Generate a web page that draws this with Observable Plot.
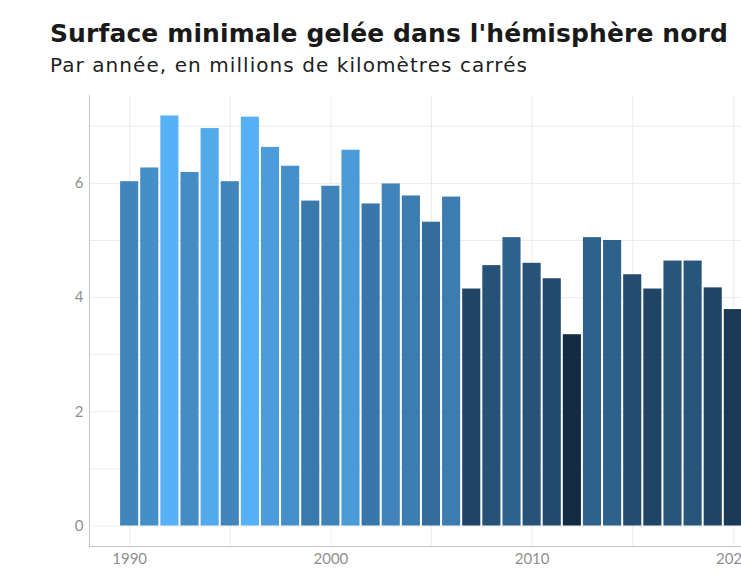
<!DOCTYPE html>
<html><head><meta charset="utf-8">
<script src="https://cdn.jsdelivr.net/npm/d3@7"></script>
<script src="https://cdn.jsdelivr.net/npm/@observablehq/plot@0.6"></script>
<style>
html,body{margin:0;padding:0;background:#fff;overflow:hidden;width:741px;height:582px;position:relative;}
#title{position:absolute;left:50px;top:19px;font-family:"DejaVu Sans",sans-serif;font-weight:bold;font-size:25px;line-height:30px;color:#1a1a1a;white-space:nowrap;}
#subtitle{position:absolute;left:50px;top:52px;font-family:"DejaVu Sans",sans-serif;font-size:20px;line-height:26px;color:#222;white-space:nowrap;}
#chart{position:absolute;left:0;top:88px;width:790px;}
#chart svg{max-width:none !important;}
</style></head><body>
<div id="title">Surface minimale gelée dans l'hémisphère nord</div>
<div id="subtitle">Par année, en millions de kilomètres carrés</div>
<div id="chart"></div>
<script>
const years = [1990,1991,1992,1993,1994,1995,1996,1997,1998,1999,2000,2001,2002,2003,2004,2005,2006,2007,2008,2009,2010,2011,2012,2013,2014,2015,2016,2017,2018,2019,2020];
const values = [6.03,6.27,7.18,6.19,6.96,6.03,7.16,6.63,6.30,5.69,5.95,6.58,5.64,5.99,5.78,5.32,5.76,4.15,4.56,5.05,4.60,4.33,3.35,5.05,5.00,4.40,4.15,4.64,4.64,4.17,3.79];
const yTicks = [0,2,4,6];
const yGrid = [0,1,2,3,4,5,6,7];
const xTicks = [1990,2000,2010,2020];
const xGrid = [1990,1995,2000,2005,2010,2015,2020];

function fitWidth(id, target) {
  const el = document.getElementById(id);
  el.style.letterSpacing = "0px";
  const w = el.getBoundingClientRect().width;
  const n = el.textContent.length;
  el.style.letterSpacing = ((target - w) / n) + "px";
}
function fitAll() { fitWidth("title", 678); fitWidth("subtitle", 478); }
fitAll();
if (document.fonts && document.fonts.ready) document.fonts.ready.then(fitAll);

const data = years.map((year, i) => ({year, value: values[i]}));
const half = 0.45;
const xMin = d3.min(years) - half, xMax = d3.max(years) + half;
const xPad = (xMax - xMin) * 0.05;
const yMax = d3.max(values);
const yPad = yMax * 0.05;

const chart = Plot.plot({
  width: 790,
  height: 494,
  marginLeft: 89,
  marginRight: 17,
  marginTop: 7,
  marginBottom: 36,
  style: {fontFamily: "Lato, sans-serif", fontSize: "15px", color: "#8f8f8f", background: "#fff", maxWidth: "none"},
  x: {domain: [xMin - xPad, xMax + xPad], axis: null},
  y: {domain: [-yPad, yMax + yPad], axis: null},
  color: {type: "linear", domain: [d3.min(values), d3.max(values)], range: ["#132B43", "#56B1F7"], interpolate: "lab"},
  marks: [
    Plot.gridY(yGrid, {stroke: "#ececec", strokeOpacity: 1}),
    Plot.gridX(xGrid, {stroke: "#ececec", strokeOpacity: 1}),
    Plot.rectY(data, {x1: d => d.year - half, x2: d => d.year + half, y: "value", fill: "value"}),
    Plot.axisY(yTicks, {tickSize: 0, tickPadding: 6, tickFormat: d => String(d), label: null, fill: "#8f8f8f"}),
    Plot.axisX(xTicks, {tickSize: 0, tickPadding: 7, tickFormat: d => String(d), label: null, fill: "#8f8f8f"}),
    Plot.frame({anchor: "left", stroke: "#c4c4c4"}),
    Plot.frame({anchor: "bottom", stroke: "#c4c4c4"})
  ]
});
document.getElementById("chart").appendChild(chart);
</script>
</body></html>
